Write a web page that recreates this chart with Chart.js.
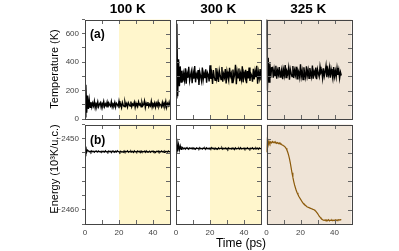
<!DOCTYPE html>
<html><head><meta charset="utf-8">
<script src="https://cdn.jsdelivr.net/npm/chart.js@4.4.1/dist/chart.umd.min.js"></script>
<style>
html,body{margin:0;padding:0;background:#fff;}
#wrap{position:relative;width:399px;height:251px;overflow:hidden;font-family:"Liberation Sans",Arial,sans-serif;}
#wrap canvas{position:absolute;left:0;top:0;}
.t{position:absolute;white-space:nowrap;color:#000;line-height:1;}
.hd{font-weight:bold;font-size:13.5px;transform:translateX(-50%);top:2px;}
.pl{font-weight:bold;font-size:12px;}
.ax{font-size:11px;transform:translate(-50%,-50%) rotate(-90deg);}
</style></head><body>
<div id="wrap">
<canvas id="c0" width="399" height="251"></canvas>
<canvas id="c1" width="399" height="251"></canvas>
<canvas id="c2" width="399" height="251"></canvas>
<canvas id="c3" width="399" height="251"></canvas>
<canvas id="c4" width="399" height="251"></canvas>
<canvas id="c5" width="399" height="251"></canvas>
<div class="t hd" id="h0" style="left:127.8px">100 K</div>
<div class="t hd" id="h1" style="left:218.3px">300 K</div>
<div class="t hd" id="h2" style="left:308.3px">325 K</div>
<div class="t pl" style="left:90px;top:28px">(a)</div>
<div class="t pl" style="left:90px;top:134px">(b)</div>
<div class="t ax" style="left:54px;top:69px">Temperature (K)</div>
<div class="t ax" style="left:54px;top:169px">Energy (10³K/u.c.)</div>
<div class="t" style="left:241px;top:237px;font-size:12px;transform:translateX(-50%)">Time (ps)</div>
</div>
<script>
// ---- data ----
const timeStep = 0.5; // ps between samples
const columnTitles = ['100 K', '300 K', '325 K'];
const tempTicks = [0, 200, 400, 600];
const energyTicks = [-2460, -2450];
const timeTicks = [0, 20, 40];
const shadeStart = [20, 20, 0]; // ps where the shaded region begins in each column

const temp100 = [15, 240, 45, 165, 70, 135, 82,
 118, 84, 112, 92, 125, 79, 108, 95, 121, 86,
 103, 115, 82, 110, 97, 124, 88, 106, 93, 119,
 81, 113, 99, 90, 122, 85, 107, 96, 117, 83,
 111, 102, 89, 126, 92, 104, 80, 116, 98, 87,
 120, 94, 109, 84, 114, 101, 91, 123, 86, 105,
 97, 118, 82, 112, 95, 88, 121, 99, 107, 85,
 116, 93, 103, 128, 81, 110, 96, 119, 87, 104,
 92, 125, 84, 108, 98, 115, 83, 111, 94, 120,
 89, 106, 100, 86, 117, 91, 113, 97, 124, 82,
 109, 95, 118, 88];

const temp300 = [150, 670, 160, 420, 230, 370, 260,
 340, 262, 318, 275, 356, 248, 322, 290, 368, 270,
 305, 335, 252, 328, 284, 372, 258, 315, 296, 345,
 240, 330, 300, 268, 362, 276, 320, 288, 350, 255,
 326, 310, 264, 378, 282, 318, 246, 344, 295, 272,
 358, 286, 324, 260, 340, 306, 278, 366, 262, 316,
 292, 352, 250, 334, 298, 270, 360, 302, 322, 256,
 348, 284, 312, 382, 244, 330, 290, 356, 266, 318,
 280, 370, 258, 326, 300, 346, 252, 338, 286, 362,
 268, 320, 306, 262, 354, 278, 336, 294, 374, 248,
 328, 288, 352, 272];

const temp325 = [720, 200, 430, 260, 390, 290, 360,
 362, 290, 348, 305, 375, 284, 340, 312, 366, 296,
 328, 354, 280, 345, 308, 380, 292, 336, 318, 360,
 276, 350, 322, 298, 372, 288, 342, 310, 368, 282,
 346, 330, 294, 385, 300, 338, 278, 364, 316, 290,
 370, 306, 344, 286, 358, 324, 296, 376, 284, 334,
 314, 362, 280, 348, 320, 298, 368, 326, 340, 288,
 356, 302, 332, 374, 294, 346, 312, 360,
 290, 352, 318, 284, 366, 300, 338, 296, 358, 310,
 344, 286, 330, 306];

const energy100 = [-2452.4, -2451.1, -2451.9, -2451.6,
 -2451.72, -2451.86, -2451.75, -2451.90, -2451.70, -2451.84, -2451.78, -2451.92, -2451.73, -2451.82,
 -2451.76, -2451.88, -2451.71, -2451.85, -2451.79, -2451.93, -2451.74, -2451.83, -2451.77, -2451.89,
 -2451.70, -2451.86, -2451.80, -2451.91, -2451.73, -2451.84, -2451.76, -2451.95, -2451.72, -2451.85,
 -2451.78, -2451.90, -2451.74, -2451.87, -2451.69, -2451.83, -2451.79, -2451.94, -2451.75, -2451.86,
 -2451.81, -2451.92, -2451.72, -2451.88, -2451.77, -2451.84, -2451.70, -2451.91, -2451.79, -2451.85,
 -2451.74, -2451.89, -2451.78, -2451.93, -2451.71, -2451.86, -2451.80, -2451.90, -2451.73, -2451.84,
 -2451.77, -2451.95, -2451.72, -2451.87, -2451.79, -2451.83, -2451.75, -2451.92, -2451.70, -2451.88,
 -2451.81, -2451.86, -2451.74, -2451.91, -2451.78, -2451.85, -2451.72, -2451.89, -2451.80, -2451.93,
 -2451.76, -2451.84, -2451.71, -2451.90, -2451.79, -2451.87, -2451.73, -2451.86, -2451.77, -2451.92,
 -2451.74, -2451.85, -2451.80, -2451.88, -2451.72, -2451.86, -2451.78];

const energy300 = [-2451.9, -2450.0, -2451.8, -2450.8, -2451.6, -2451.0, -2451.5, -2451.2,
 -2451.28, -2451.42, -2451.31, -2451.46, -2451.26, -2451.40, -2451.34, -2451.48, -2451.29, -2451.38,
 -2451.32, -2451.44, -2451.27, -2451.41, -2451.35, -2451.49, -2451.30, -2451.39, -2451.33, -2451.45,
 -2451.26, -2451.42, -2451.36, -2451.47, -2451.29, -2451.40, -2451.32, -2451.50, -2451.28, -2451.41,
 -2451.34, -2451.46, -2451.30, -2451.43, -2451.25, -2451.39, -2451.35, -2451.49, -2451.31, -2451.42,
 -2451.37, -2451.48, -2451.28, -2451.44, -2451.33, -2451.40, -2451.26, -2451.47, -2451.35, -2451.41,
 -2451.30, -2451.45, -2451.34, -2451.49, -2451.27, -2451.42, -2451.36, -2451.46, -2451.29, -2451.40,
 -2451.33, -2451.51, -2451.28, -2451.43, -2451.35, -2451.39, -2451.31, -2451.48, -2451.26, -2451.44,
 -2451.37, -2451.42, -2451.30, -2451.47, -2451.34, -2451.41, -2451.28, -2451.45, -2451.36, -2451.49,
 -2451.32, -2451.40, -2451.27, -2451.46, -2451.35, -2451.43, -2451.29, -2451.42, -2451.33, -2451.48,
 -2451.30, -2451.41, -2451.36];

const energy325 = [-2451.9, -2449.8, -2450.9, -2450.4, -2450.7, -2450.45, -2450.6, -2450.4, -2450.55, -2450.45,
 -2450.6, -2450.5, -2450.65, -2450.55, -2450.7, -2450.6, -2450.75, -2450.7, -2450.85, -2450.9,
 -2451.0, -2451.05, -2451.2, -2451.35, -2451.6, -2451.9, -2452.3, -2452.8, -2453.4, -2454.1,
 -2454.8, -2455.4, -2456.0, -2456.5, -2456.9, -2457.3, -2457.6, -2457.85, -2458.1, -2458.3,
 -2458.5, -2458.7, -2458.9, -2459.05, -2459.2, -2459.3, -2459.4, -2459.5, -2459.6, -2459.65,
 -2459.7, -2459.75, -2459.8, -2459.85, -2459.9, -2459.95, -2460.0, -2460.1, -2460.2, -2460.35,
 -2460.5, -2460.7, -2460.9, -2461.05, -2461.2, -2461.3, -2461.4, -2461.45, -2461.5, -2461.42,
 -2461.55, -2461.45, -2461.52, -2461.4, -2461.55, -2461.46, -2461.5, -2461.42, -2461.54, -2461.45,
 -2461.5, -2461.4, -2461.52, -2461.44, -2461.48, -2461.4, -2461.45, -2461.38, -2461.42];

// ---- layout / style ----
const FONT = '"Liberation Sans", Arial, sans-serif';
const W = 399, H = 251;
const COLS = [[85, 170], [176, 261], [266.5, 351.5]];
const ROWS = [[19.5, 119], [124.5, 224]];
const YAXW = 30, XAXH = 16;
const TEMP_RANGE = {min: 0, max: 700, step: 100};
const ENERGY_RANGE = {min: -2462, max: -2448, step: 2};
const YELLOW = '#fff6cc', BEIGE = '#efe4d7';

columnTitles.forEach((t, i) => { document.getElementById('h' + i).textContent = t; });

const decor = {
  id: 'decor',
  beforeDatasetsDraw(chart, args, o) {
    const {ctx, chartArea: a, scales: {x}} = chart;
    ctx.save();
    const sx = x.getPixelForValue(o.shade);
    ctx.fillStyle = o.shadeColor;
    ctx.fillRect(sx, a.top, a.right - sx, a.bottom - a.top);
    ctx.restore();
  },
  afterDraw(chart, args, o) {
    const {ctx, chartArea: a, scales: {x, y}} = chart;
    const L = Math.round(a.left), R = Math.round(a.right), T = Math.round(a.top), B = Math.round(a.bottom);
    ctx.save();
    ctx.lineWidth = 1;
    ctx.strokeStyle = '#666';
    ctx.beginPath();
    for (let v = 10; v < 50; v += 10) {
      const px = Math.round(x.getPixelForValue(v)) + 0.5;
      ctx.moveTo(px, T); ctx.lineTo(px, T + 4);
      ctx.moveTo(px, B); ctx.lineTo(px, B - 4);
    }
    const r = o.range;
    for (let v = r.min + r.step; v < r.max - 1e-9; v += r.step) {
      const py = Math.round(y.getPixelForValue(v)) + 0.5;
      ctx.moveTo(R, py); ctx.lineTo(R - 4, py);
      if (o.leftIn) { ctx.moveTo(L, py); ctx.lineTo(L + 4, py); }
    }
    ctx.stroke();
    ctx.strokeStyle = '#444';
    ctx.strokeRect(L + 0.5, T + 0.5, R - L, B - T);
    ctx.restore();
  }
};

function panel(id, ci, ri, vals, color, lw, range, labels) {
  const [l, r] = COLS[ci], [t, b] = ROWS[ri];
  const showY = ci === 0, showX = ri === 1;
  new Chart(document.getElementById(id), {
    type: 'line',
    data: {datasets: [{
      data: vals.map((v, i) => ({x: i * timeStep, y: v})),
      borderColor: color, borderWidth: lw, pointRadius: 0, tension: 0, fill: false, clip: 0
    }]},
    options: {
      responsive: false, animation: false, events: [],
      layout: {padding: {left: showY ? l - YAXW : l, right: W - r, top: t, bottom: showX ? H - b - XAXH : H - b}},
      plugins: {legend: {display: false}, tooltip: {enabled: false},
        decor: {shade: shadeStart[ci], shadeColor: ci === 2 ? BEIGE : YELLOW, range, leftIn: ci !== 0}},
      scales: {
        x: {type: 'linear', min: 0, max: 50, display: showX,
          afterFit: s => { s.height = showX ? XAXH : 0; },
          grid: {display: false, drawTicks: false}, border: {display: false},
          ticks: {stepSize: 10, autoSkip: false, maxRotation: 0, padding: 4, color: '#444',
            font: {family: FONT, size: 8},
            callback: v => timeTicks.includes(Math.round(v)) ? String(Math.round(v)) : ''}},
        y: {type: 'linear', min: range.min, max: range.max, display: showY,
          afterFit: s => { s.width = showY ? YAXW : 0; },
          grid: {drawOnChartArea: false, drawTicks: true, tickLength: 3, color: '#666'}, border: {display: false},
          ticks: {stepSize: range.step, autoSkip: false, padding: 3, color: '#444',
            font: {family: FONT, size: 8},
            callback: v => { const q = Math.round(v); return labels.includes(q) ? String(q).replace('-', '\u2212') : ''; }}}
      }
    },
    plugins: [decor]
  });
}

panel('c0', 0, 0, temp100, '#000', 1.4, TEMP_RANGE, tempTicks);
panel('c1', 1, 0, temp300, '#000', 1.4, TEMP_RANGE, tempTicks);
panel('c2', 2, 0, temp325, '#000', 1.4, TEMP_RANGE, tempTicks);
panel('c3', 0, 1, energy100, '#000', 1.2, ENERGY_RANGE, energyTicks);
panel('c4', 1, 1, energy300, '#000', 1.2, ENERGY_RANGE, energyTicks);
panel('c5', 2, 1, energy325, '#8c5a0a', 1.2, ENERGY_RANGE, energyTicks);
</script>
</body></html>
